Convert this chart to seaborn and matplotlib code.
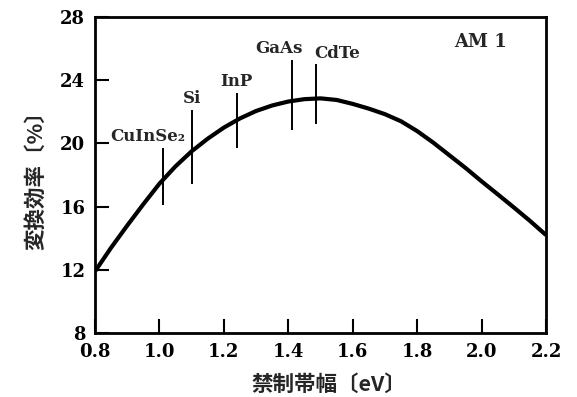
import matplotlib
matplotlib.use("Agg")
import matplotlib.pyplot as plt
import seaborn as sns
import pandas as pd

# ---- data ----
energy = [0.80, 0.85, 0.90, 0.95, 1.00, 1.05, 1.10, 1.15, 1.20, 1.25,
          1.30, 1.35, 1.40, 1.45, 1.50, 1.55, 1.60, 1.65, 1.70, 1.75,
          1.80, 1.85, 1.90, 1.95, 2.00, 2.05, 2.10, 2.15, 2.20]
efficiency = [11.9, 13.4, 14.8, 16.15, 17.45, 18.55, 19.5, 20.3, 21.0, 21.58,
              22.05, 22.4, 22.65, 22.8, 22.85, 22.75, 22.5, 22.2, 21.85, 21.4,
              20.78, 20.05, 19.25, 18.45, 17.6, 16.78, 15.95, 15.1, 14.2]

materials = ["CuInSe₂", "Si", "InP", "GaAs", "CdTe"]
material_gap = [1.01, 1.10, 1.24, 1.41, 1.485]
mark_low = [16.1, 17.4, 19.7, 20.85, 21.2]
mark_high = [19.7, 22.1, 23.2, 25.3, 25.0]

x_ticks = [0.8, 1.0, 1.2, 1.4, 1.6, 1.8, 2.0, 2.2]
y_ticks = [8, 12, 16, 20, 24, 28]
x_label = "禁制帯幅〔eV〕"
y_label = "変換効率〔%〕"
condition = "AM 1"

# ---- styling ----
sns.set_theme(style="ticks")
plt.rcParams["font.family"] = ["DejaVu Serif", "Noto Sans CJK JP"]

df = pd.DataFrame({"energy": energy, "efficiency": efficiency})

fig = plt.figure(figsize=(5.77, 3.97), dpi=100)
ax = fig.add_axes([95 / 577, 1 - 333 / 397, 451 / 577, 316 / 397])

sns.lineplot(data=df, x="energy", y="efficiency", ax=ax, color="black",
             linewidth=3.0, sort=True)
ax.lines[0].set_solid_joinstyle("round")
ax.lines[0].set_solid_capstyle("butt")

ax.vlines(material_gap, mark_low, mark_high, colors="black", linewidth=1.4)

# label offsets (points) and alignment for each material name
label_dx = [-11, 0, 0, -9, -1]
label_ha = ["center", "center", "center", "center", "left"]
for name, gx, gy, dx, ha in zip(materials, material_gap, mark_high, label_dx, label_ha):
    ax.annotate(name, xy=(gx, gy), xytext=(dx, 2), textcoords="offset points",
                ha=ha, va="bottom", fontsize=12, fontweight="bold",
                family=["DejaVu Serif"])

ax.text(0.854, 0.921, condition, transform=ax.transAxes, ha="center",
        va="center", fontsize=13, fontweight="bold", family=["DejaVu Serif"])

ax.set_xlim(x_ticks[0], x_ticks[-1])
ax.set_ylim(y_ticks[0], y_ticks[-1])
ax.set_xticks(x_ticks)
ax.set_yticks(y_ticks)
ax.set_xticklabels([f"{t:.1f}" for t in x_ticks], fontsize=13, fontweight="bold")
ax.set_yticklabels([str(t) for t in y_ticks], fontsize=13, fontweight="bold")

ax.tick_params(axis="both", direction="in", length=10, width=1.5,
               colors="black", top=False, right=False)
ax.tick_params(axis="x", pad=7)
ax.tick_params(axis="y", pad=7)

for s in ax.spines.values():
    s.set_visible(True)
    s.set_linewidth(2.0)
    s.set_color("black")

ax.set_xlabel(x_label, fontsize=15.5, family=["Noto Sans CJK JP", "DejaVu Serif"],
              fontweight="bold")
ax.set_ylabel(y_label, fontsize=15.5, family=["Noto Sans CJK JP", "DejaVu Serif"],
              fontweight="bold")
ax.xaxis.label.set_verticalalignment("center")
ax.yaxis.label.set_verticalalignment("center")
ax.xaxis.set_label_coords(0.519, -0.162)
ax.yaxis.set_label_coords(-0.131, 0.5)

ax.grid(False)
ax.set_facecolor("white")
fig.patch.set_facecolor("white")

fig.savefig("out.png", dpi=100, facecolor="white")
